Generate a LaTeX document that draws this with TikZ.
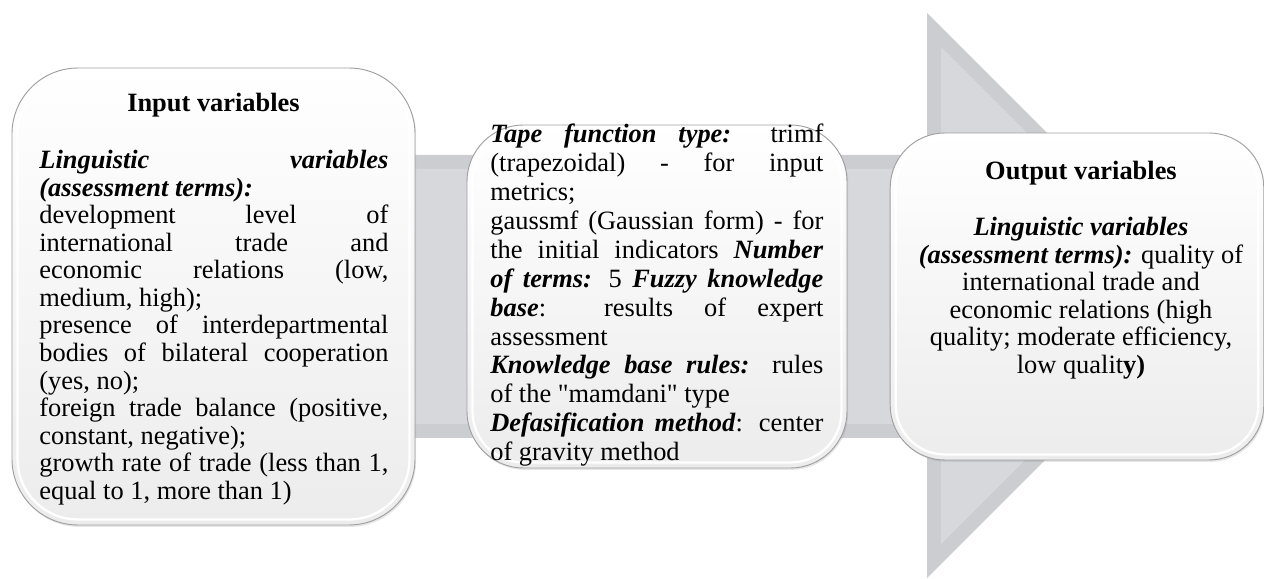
\documentclass[tikz,border=0pt]{standalone}
\usepackage{fontspec}
\setmainfont{LiberationSerif}[Extension=.ttf, UprightFont=*-Regular, BoldFont=*-Bold,
  ItalicFont=*-Italic, BoldItalicFont=*-BoldItalic]
\usetikzlibrary{shadows}
\setlength{\parindent}{0pt}

\definecolor{boxedge}{RGB}{160,160,162}
\definecolor{boxlow}{RGB}{236,236,237}
\definecolor{arrowgray}{RGB}{204,205,209}
\definecolor{arrowlight}{RGB}{215,216,220}

\tikzset{
  procbox/.style={draw=boxedge, line width=0.5pt, top color=white, middle color=white, bottom color=boxlow,
    drop shadow={opacity=0.2, shadow xshift=0.6pt, shadow yshift=-1pt}},
  bevel/.style={draw=white, line width=1.2pt},
  boxtext/.style={inner sep=0pt, font=\fontsize{14}{14.6}\selectfont},
  headtext/.style={inner sep=0pt, font=\fontsize{14}{14.6}\selectfont\bfseries},
}

\begin{document}
\begin{tikzpicture}[x=0.53pt, y=-0.53pt]
  \useasboundingbox (0,0) rectangle (1264,579);

  % Background arrow
  \fill[arrowgray] (30,155) -- (927,155) -- (927,13) -- (1209.5,295.5) -- (927,578) -- (927,438) -- (30,438) -- cycle;
  \fill[arrowlight] (44,169) -- (941,169) -- (941,46.8) -- (1189.7,295.5) -- (941,544.2) -- (941,424) -- (44,424) -- cycle;

  % Process boxes
  \node[procbox, rounded corners=35pt, minimum width=213.6pt, minimum height=242.2pt] (inbox) at (213.5,296.5) {};
  \node[procbox, rounded corners=30pt, minimum width=201.4pt, minimum height=181.8pt] (rulebox) at (657,296.5) {};
  \node[procbox, rounded corners=29pt, minimum width=198pt, minimum height=173.3pt] (outbox) at (1077,296.5) {};
  \draw[bevel, rounded corners=32pt] ([shift={(6,6)}]inbox.north west) rectangle ([shift={(-6,-6)}]inbox.south east);
  \draw[bevel, rounded corners=27pt] ([shift={(6,6)}]rulebox.north west) rectangle ([shift={(-6,-6)}]rulebox.south east);
  \draw[bevel, rounded corners=26pt] ([shift={(6,6)}]outbox.north west) rectangle ([shift={(-6,-6)}]outbox.south east);

  % Input variables
  \node[headtext, anchor=base] (inhead) at (213.5,112) {Input variables};
  \node[boxtext, anchor=north west, text width=185pt, align=justify] (intext) at (39,150) {%
    \textbf{\textit{Linguistic variables\linebreak (assessment terms):}}\par
    development level of\linebreak international trade and\linebreak economic relations (low,\linebreak medium, high);\par
    presence of interdepartmental\linebreak bodies of bilateral cooperation\linebreak (yes, no);\par
    foreign trade balance (positive,\linebreak constant, negative);\par
    growth rate of trade (less than 1,\linebreak equal to 1, more than 1)};

  % Fuzzy model settings
  \node[boxtext, anchor=north west, text width=176.5pt, align=justify,
    font=\fontsize{14}{15.3}\selectfont] (ruletext) at (490,124) {%
    \textbf{\textit{Tape function type:}} trimf\linebreak (trapezoidal) - for input\linebreak metrics;\par
    gaussmf (Gaussian form) - for\linebreak the initial indicators \textbf{\textit{Number}}\linebreak
    \textbf{\textit{of terms:}} 5 \textbf{\textit{Fuzzy knowledge}}\linebreak \textbf{\textit{base}}: results of expert\linebreak assessment\par
    \textbf{\textit{Knowledge base rules:}} rules\linebreak of the \textquotedbl mamdani\textquotedbl{} type\par
    \textbf{\textit{Defasification method}}: center\linebreak of gravity method};

  % Output variables
  \node[headtext, anchor=base] (outhead) at (1081,180) {Output variables};
  \node[boxtext, anchor=north, align=center] (outtext) at (1081,217) {%
    \textbf{\textit{Linguistic variables}}\\
    \textbf{\textit{(assessment terms):}} quality of\\
    international trade and\\
    economic relations (high\\
    quality; moderate efficiency,\\
    low qualit\textbf{y)}};
\end{tikzpicture}
\end{document}
